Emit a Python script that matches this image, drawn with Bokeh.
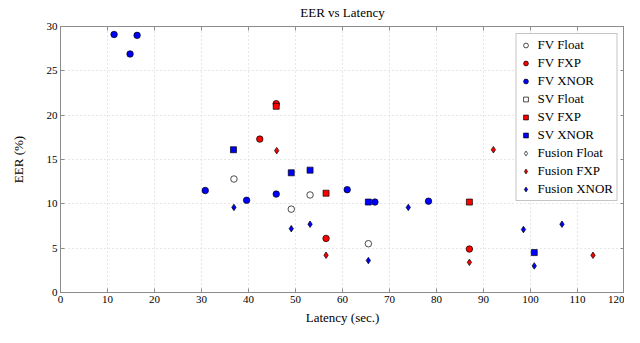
from bokeh.plotting import figure
from bokeh.models import ColumnDataSource, FixedTicker, LinearAxis, Range1d
from bokeh.embed import file_html
from bokeh.resources import INLINE

# ---- data ----
fv_float_x = [36.9, 49.1, 53.1, 65.5]
fv_float_y = [12.8, 9.4, 11.0, 5.5]

fv_fxp_x = [42.4, 45.9, 56.5, 87.0]
fv_fxp_y = [17.3, 21.3, 6.1, 4.9]

fv_xnor_x = [11.4, 16.3, 14.8, 30.8, 39.6, 45.9, 61.0, 66.9, 78.3]
fv_xnor_y = [29.1, 29.0, 26.9, 11.5, 10.4, 11.1, 11.6, 10.2, 10.3]

sv_float_x = []
sv_float_y = []

sv_fxp_x = [45.9, 56.5, 87.0]
sv_fxp_y = [21.0, 11.2, 10.2]

sv_xnor_x = [36.8, 49.1, 53.1, 65.5, 100.8]
sv_xnor_y = [16.1, 13.5, 13.8, 10.2, 4.5]

fusion_float_x = []
fusion_float_y = []

fusion_fxp_x = [46.0, 56.5, 87.0, 92.1, 113.3]
fusion_fxp_y = [16.0, 4.2, 3.4, 16.1, 4.2]

fusion_xnor_x = [36.9, 49.1, 53.1, 65.5, 74.0, 98.5, 100.8, 106.7]
fusion_xnor_y = [9.6, 7.2, 7.7, 3.6, 9.6, 7.1, 3.0, 7.7]

x_ticks = [0, 10, 20, 30, 40, 50, 60, 70, 80, 90, 100, 110, 120]
y_ticks = [0, 5, 10, 15, 20, 25, 30]

FONT = "Liberation Serif"
AXIS_COL = "#8c8c8c"

p = figure(width=624, height=327, output_backend="svg", toolbar_location=None,
           x_range=Range1d(0, 120), y_range=Range1d(0, 30),
           title="EER vs Latency",
           min_border_left=60, min_border_right=0, min_border_top=26, min_border_bottom=33)

p.title.align = "center"
p.title.vertical_align = "top"
p.title.text_font = FONT
p.title.text_font_size = "13px"
p.title.text_font_style = "normal"
p.title.text_color = "black"
p.title.standoff = 9

p.outline_line_color = AXIS_COL
p.outline_line_width = 1

for ax in (p.xaxis[0], p.yaxis[0]):
    ax.axis_line_color = AXIS_COL
    ax.major_tick_line_color = AXIS_COL
    ax.major_tick_in = 4
    ax.major_tick_out = 0
    ax.minor_tick_line_color = None
    ax.major_label_text_font = FONT
    ax.major_label_text_font_size = "11px"
    ax.major_label_text_color = "black"
    ax.axis_label_text_font = FONT
    ax.axis_label_text_font_size = "13px"
    ax.axis_label_text_font_style = "normal"
    ax.axis_label_text_color = "black"
    ax.major_label_standoff = 3

p.xaxis[0].axis_label_standoff = 4
p.yaxis[0].axis_label_standoff = 18

p.xaxis[0].ticker = FixedTicker(ticks=x_ticks)
p.yaxis[0].ticker = FixedTicker(ticks=y_ticks)
p.xaxis[0].axis_label = "Latency (sec.)"
p.yaxis[0].axis_label = "EER (%)"

# tick marks on the top and right side (pgfplots style), without labels
top = LinearAxis(ticker=FixedTicker(ticks=x_ticks),
                 major_label_overrides={t: "" for t in x_ticks},
                 axis_line_color=None, major_tick_line_color=AXIS_COL,
                 major_tick_in=4, major_tick_out=0, minor_tick_line_color=None,
                 major_label_standoff=0)
right = LinearAxis(ticker=FixedTicker(ticks=y_ticks),
                   major_label_overrides={t: "" for t in y_ticks},
                   axis_line_color=None, major_tick_line_color=AXIS_COL,
                   major_tick_in=4, major_tick_out=0, minor_tick_line_color=None,
                   major_label_standoff=0)
p.add_layout(top, "above")
p.add_layout(right, "right")

p.xgrid.ticker = FixedTicker(ticks=x_ticks)
p.ygrid.ticker = FixedTicker(ticks=y_ticks)
p.grid.grid_line_color = "#cfcfcf"
p.grid.grid_line_dash = "1 3"
p.grid.grid_line_width = 1

series = [
    ("FV Float", fv_float_x, fv_float_y, "circle", "white", 6.5),
    ("FV FXP", fv_fxp_x, fv_fxp_y, "circle", "#ff0000", 6.5),
    ("FV XNOR", fv_xnor_x, fv_xnor_y, "circle", "#0000ff", 6.5),
    ("SV Float", sv_float_x, sv_float_y, "square", "white", 6),
    ("SV FXP", sv_fxp_x, sv_fxp_y, "square", "#ff0000", 6),
    ("SV XNOR", sv_xnor_x, sv_xnor_y, "square", "#0000ff", 6),
    ("Fusion Float", fusion_float_x, fusion_float_y, "diamond", "white", 6.5),
    ("Fusion FXP", fusion_fxp_x, fusion_fxp_y, "diamond", "#ff0000", 6.5),
    ("Fusion XNOR", fusion_xnor_x, fusion_xnor_y, "diamond", "#0000ff", 6.5),
]

NAN = float("nan")
for label, xs, ys, marker, color, size in series:
    # empty series keep a single NaN row so that their legend glyph is still drawn
    xs = list(xs) if xs else [NAN]
    ys = list(ys) if ys else [NAN]
    src = ColumnDataSource(data=dict(x=xs, y=ys))
    p.scatter("x", "y", source=src, marker=marker, size=size, fill_color=color,
              line_color="black", line_width=0.7, legend_label=label)

lg = p.legend[0]
lg.location = "top_right"
lg.margin = 7
lg.padding = 3
lg.spacing = 2
lg.label_height = 16
lg.glyph_height = 16
lg.glyph_width = 12
lg.label_standoff = 6
lg.label_text_font = FONT
lg.label_text_font_size = "13px"
lg.label_text_color = "black"
lg.border_line_color = "#8c8c8c"
lg.border_line_width = 1
lg.background_fill_color = "white"
lg.background_fill_alpha = 1

open("out.html", "w").write(file_html(p, INLINE))
